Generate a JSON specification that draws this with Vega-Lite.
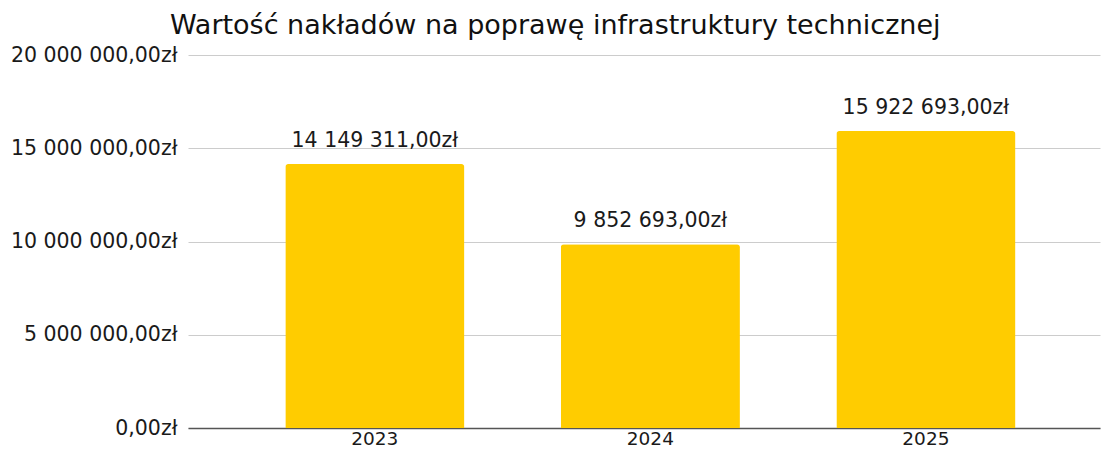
{
  "$schema": "https://vega.github.io/schema/vega-lite/v6.json",
  "width": 912,
  "height": 373,
  "autosize": "none",
  "padding": {"left": 188, "top": 55, "right": 4, "bottom": 22},
  "title": {
    "text": "Wartość nakładów na poprawę infrastruktury technicznej",
    "anchor": "middle",
    "frame": "bounds",
    "font": "DejaVu Sans",
    "fontSize": 27,
    "fontWeight": "normal",
    "color": "#111111",
    "offset": 5
  },
  "config": {
    "view": {"stroke": null},
    "locale": {
      "number": {
        "decimal": ",",
        "thousands": " ",
        "grouping": [3],
        "currency": ["", "zł"]
      }
    },
    "font": "DejaVu Sans"
  },
  "data": {
    "values": [
      {"rok": "2023", "wartosc": 14149311},
      {"rok": "2024", "wartosc": 9852693},
      {"rok": "2025", "wartosc": 15922693}
    ]
  },
  "encoding": {
    "x": {
      "field": "rok",
      "type": "nominal",
      "title": null,
      "scale": {"paddingInner": 0.35, "paddingOuter": 0.33, "align": 0.535},
      "axis": {
        "labelAngle": 0,
        "labelFontSize": 18.5,
        "labelColor": "#1a1a1a",
        "labelPadding": 1,
        "ticks": false,
        "domainColor": "#555555",
        "domainWidth": 1.5
      }
    },
    "y": {
      "field": "wartosc",
      "type": "quantitative",
      "title": null,
      "scale": {"domain": [0, 20000000]},
      "axis": {
        "values": [0, 5000000, 10000000, 15000000, 20000000],
        "format": "$,.2f",
        "labelFontSize": 20.5,
        "labelColor": "#1a1a1a",
        "labelPadding": 11,
        "ticks": false,
        "domain": false,
        "gridColor": "#cccccc",
        "gridWidth": 1
      }
    }
  },
  "layer": [
    {
      "mark": {"type": "bar", "color": "#FFCC00", "cornerRadiusTopLeft": 3, "cornerRadiusTopRight": 3}
    },
    {
      "mark": {"type": "text", "baseline": "bottom", "dy": -13, "fontSize": 20.5, "color": "#1a1a1a"},
      "encoding": {
        "text": {"field": "wartosc", "type": "quantitative", "format": "$,.2f"}
      }
    }
  ]
}
